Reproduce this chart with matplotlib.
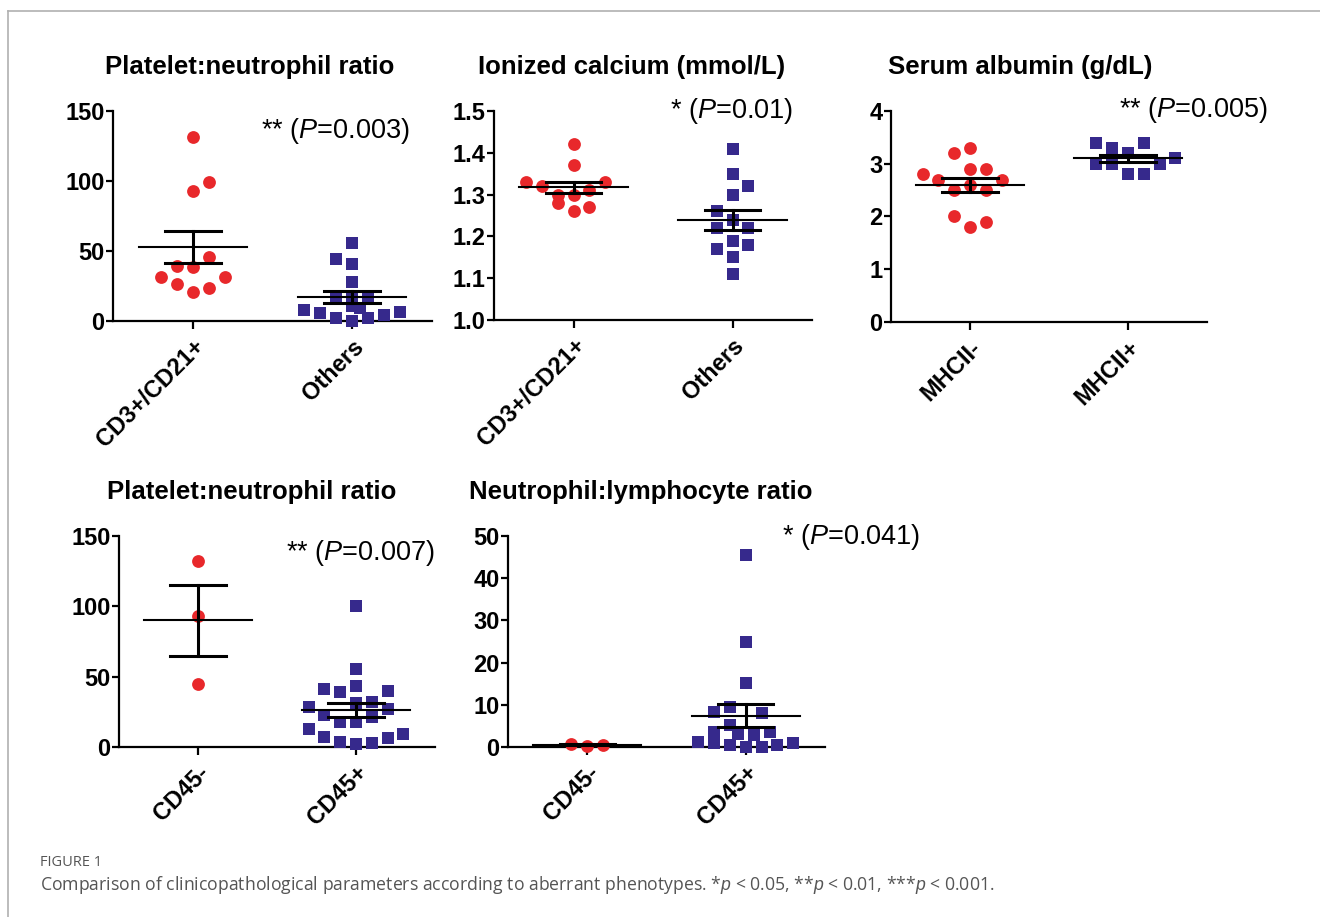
import numpy as np
import matplotlib
matplotlib.use("Agg")
import matplotlib.pyplot as plt
from matplotlib.lines import Line2D

plt.rcParams['font.family'] = ['Liberation Sans', 'DejaVu Sans']
plt.rcParams['mathtext.fontset'] = 'custom'
plt.rcParams['mathtext.rm'] = 'Liberation Sans'
plt.rcParams['mathtext.it'] = 'Liberation Sans:italic'

RED = '#e8282b'
BLUE = '#36298c'
W, H = 1320, 917

# platelet:neutrophil ratio, CD3+/CD21+ vs others
pnr1_groups = ['CD3+/CD21+', 'Others']
pnr1_a = [131.7, 99.5, 93, 45.5, 39.5, 38.8, 31.7, 31.2, 26.4, 23.3, 21]
pnr1_a_dx = [0, 0.1, 0, 0.1, -0.1, 0, -0.2, 0.2, -0.1, 0.1, 0]
pnr1_b = [56, 44, 41, 28, 18, 18, 17, 11, 9, 8, 6, 2.4, 0, 2.4, 4.3, 6.7]
pnr1_b_dx = [0, -0.1, 0, 0, -0.1, 0, 0.1, 0, 0.05, -0.3, -0.2, -0.1, 0, 0.1, 0.2, 0.3]

# ionized calcium
ica_groups = ['CD3+/CD21+', 'Others']
ica_a = [1.42, 1.37, 1.33, 1.33, 1.32, 1.31, 1.30, 1.30, 1.28, 1.27, 1.26]
ica_a_dx = [0, 0, -0.3, 0.2, -0.2, 0.1, -0.1, 0, -0.1, 0.1, 0]
ica_b = [1.41, 1.35, 1.32, 1.30, 1.26, 1.24, 1.22, 1.22, 1.19, 1.18, 1.17, 1.15, 1.11]
ica_b_dx = [0, 0, 0.1, 0, -0.1, 0, -0.1, 0.1, 0, 0.1, -0.1, 0, 0]

# serum albumin
alb_groups = ['MHCII-', 'MHCII+']
alb_a = [3.3, 3.2, 2.9, 2.9, 2.8, 2.7, 2.7, 2.6, 2.5, 2.5, 2.0, 1.9, 1.8]
alb_a_dx = [0, -0.1, 0, 0.1, -0.3, -0.2, 0.2, 0, -0.1, 0.1, -0.1, 0.1, 0]
alb_b = [3.4, 3.3, 3.4, 3.2, 3.1, 3.0, 3.0, 3.0, 2.8, 2.8]
alb_b_dx = [-0.2, -0.1, 0.1, 0, 0.3, -0.2, -0.1, 0.2, 0, 0.1]

# platelet:neutrophil ratio, CD45- vs CD45+
pnr2_groups = ['CD45-', 'CD45+']
pnr2_a = [132, 93, 45]
pnr2_a_dx = [0, 0, 0]
pnr2_b = [100, 55.5, 43.4, 41, 39.3, 40, 31, 31.8, 28.2, 27, 22.7, 21, 17.5, 17.5,
          12.6, 6.9, 9.2, 6.2, 3.8, 2.1, 2.6]
pnr2_b_dx = [0, 0, 0, -0.2, -0.1, 0.2, 0, 0.1, -0.3, 0.2, -0.2, 0.1, -0.1, 0,
             -0.3, -0.2, 0.3, 0.2, -0.1, 0, 0.1]

# neutrophil:lymphocyte ratio
nlr_groups = ['CD45-', 'CD45+']
nlr_a = [0.7, 0.3, 0.5]
nlr_a_dx = [-0.1, 0, 0.1]
nlr_b = [45.5, 25, 15.2, 9.5, 8.3, 8.1, 5.1, 3.6, 3.6, 3.0, 2.8, 1.2, 1.0, 1.0, 0.4, 0.4, 0, 0]
nlr_b_dx = [0, 0, 0, -0.1, -0.2, 0.1, -0.1, -0.2, 0.15, -0.05, 0.05, -0.3, -0.2, 0.3, -0.1, 0.2, 0, 0.1]

fig = plt.figure(figsize=(W / 100, H / 100), dpi=100)


def px(l, t, r, b):
    return [l / W, 1 - b / H, (r - l) / W, (b - t) / H]


def panel(box, title, title_c, groups, a, a_dx, b, b_dx, ylim, yticks, fmt, note, note_xy):
    ax = fig.add_axes(px(*box))
    ax.scatter(np.array(a_dx) + 0, a, s=85, marker='o', color=RED, linewidths=0,
               zorder=3, clip_on=False)
    ax.scatter(np.array(b_dx) + 1, b, s=72, marker='s', color=BLUE, linewidths=0,
               zorder=3, clip_on=False)
    for i, vals in enumerate([a, b]):
        m = np.mean(vals)
        se = np.std(vals, ddof=1) / np.sqrt(len(vals))
        ax.plot([i - 0.34, i + 0.34], [m, m], color='black', lw=1.5, zorder=4, clip_on=False)
        ax.plot([i, i], [m - se, m + se], color='black', lw=2.2, zorder=4, clip_on=False)
        ax.plot([i - 0.175, i + 0.175], [m + se] * 2, color='black', lw=2.2, zorder=4, clip_on=False)
        ax.plot([i - 0.175, i + 0.175], [m - se] * 2, color='black', lw=2.2, zorder=4, clip_on=False)
    ax.set_xlim(-0.5, 1.5)
    ax.set_ylim(*ylim)
    ax.set_yticks(yticks)
    ax.set_yticklabels([fmt.format(t) for t in yticks], fontsize=17, fontweight='bold')
    ax.set_xticks([0, 1])
    ax.set_xticklabels(groups, rotation=45, ha='right', rotation_mode='anchor',
                       fontsize=17, fontweight='bold')
    for s in ['top', 'right']:
        ax.spines[s].set_visible(False)
    for s in ['left', 'bottom']:
        ax.spines[s].set_linewidth(1.6)
    ax.tick_params(axis='y', length=5, width=1.6, pad=1)
    ax.tick_params(axis='x', length=6, width=1.6, pad=4)
    ax.patch.set_alpha(0)
    fig.text(title_c[0] / W, 1 - title_c[1] / H, title, ha='center', va='center',
             fontsize=18.5, fontweight='bold')
    ax.text(note_xy[0], note_xy[1], note, ha='left', va='center', fontsize=19.5, clip_on=False)
    return ax


panel((113, 111, 432, 321), 'Platelet:neutrophil ratio', (250, 67), pnr1_groups,
      pnr1_a, pnr1_a_dx, pnr1_b, pnr1_b_dx, (0, 150), [0, 50, 100, 150], '{:g}',
      r'** ($\mathit{P}$=0.003)', (0.43, 136))
panel((494, 111, 812, 320), 'Ionized calcium (mmol/L)', (632, 67), ica_groups,
      ica_a, ica_a_dx, ica_b, ica_b_dx, (1.0, 1.5), [1.0, 1.1, 1.2, 1.3, 1.4, 1.5], '{:.1f}',
      r'* ($\mathit{P}$=0.01)', (0.61, 1.5))
panel((891, 111, 1207, 322), 'Serum albumin (g/dL)', (1020, 67), alb_groups,
      alb_a, alb_a_dx, alb_b, alb_b_dx, (0, 4), [0, 1, 2, 3, 4], '{:g}',
      r'** ($\mathit{P}$=0.005)', (0.94, 4.02))
panel((119, 536, 435, 747), 'Platelet:neutrophil ratio', (252, 492), pnr2_groups,
      pnr2_a, pnr2_a_dx, pnr2_b, pnr2_b_dx, (0, 150), [0, 50, 100, 150], '{:g}',
      r'** ($\mathit{P}$=0.007)', (0.56, 138))
panel((508, 536, 825, 747), 'Neutrophil:lymphocyte ratio', (641, 492), nlr_groups,
      nlr_a, nlr_a_dx, nlr_b, nlr_b_dx, (0, 50), [0, 10, 20, 30, 40, 50], '{:g}',
      r'* ($\mathit{P}$=0.041)', (1.23, 49.8))

# page frame
fig.add_artist(Line2D([8 / W, 1], [1 - 11 / H, 1 - 11 / H], color='#b0b0b0', lw=1.2))
fig.add_artist(Line2D([8 / W, 8 / W], [0, 1 - 11 / H], color='#b0b0b0', lw=1.2))

fig.text(40 / W, 1 - 862 / H, 'FIGURE 1', fontsize=10.5, color='#555555',
         family=['Open Sans', 'DejaVu Sans'], va='center')
fig.text(40 / W, 1 - 885 / H,
         r'Comparison of clinicopathological parameters according to aberrant phenotypes. '
         r'*$\mathit{p}$ < 0.05, **$\mathit{p}$ < 0.01, ***$\mathit{p}$ < 0.001.',
         fontsize=12.7, color='#555555', family=['Open Sans', 'DejaVu Sans'], va='center')

fig.savefig('out.png', dpi=100)
